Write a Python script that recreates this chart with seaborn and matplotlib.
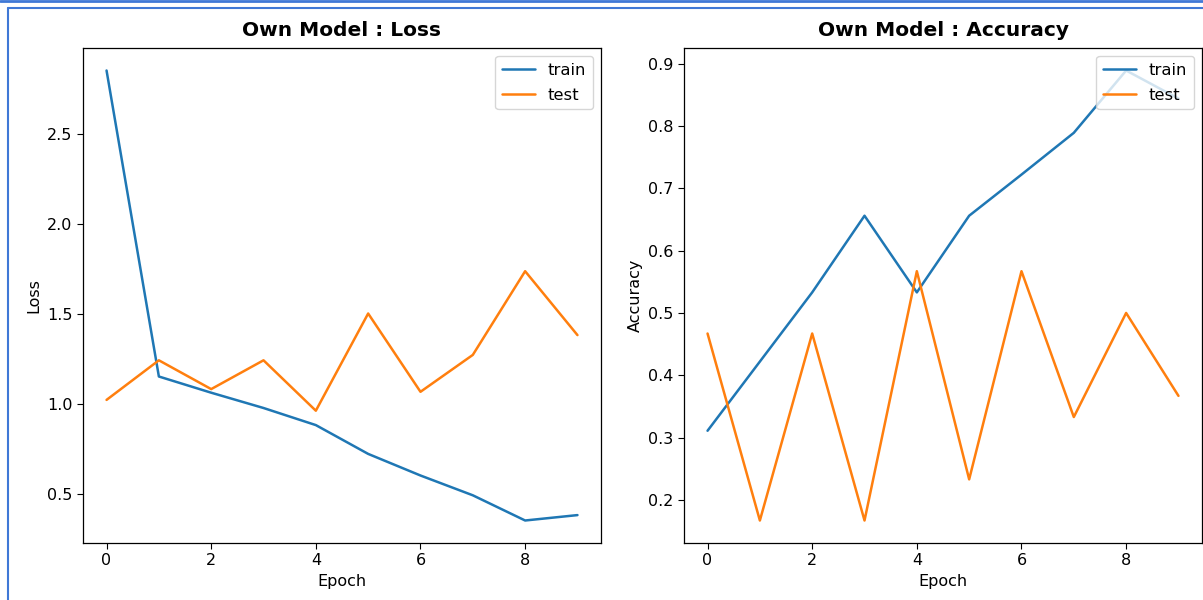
import numpy as np
import pandas as pd
import matplotlib
matplotlib.use("Agg")
import matplotlib.pyplot as plt
from matplotlib.lines import Line2D
import seaborn as sns

# values
epochs = list(range(10))
train_loss = [2.85, 1.15, 1.06, 0.975, 0.88, 0.72, 0.60, 0.49, 0.35, 0.38]
test_loss = [1.02, 1.24, 1.08, 1.24, 0.96, 1.50, 1.065, 1.27, 1.735, 1.38]
train_acc = [0.311, 0.422, 0.533, 0.656, 0.533, 0.656, 0.722, 0.789, 0.889, 0.844]
test_acc = [0.467, 0.167, 0.467, 0.167, 0.567, 0.233, 0.567, 0.333, 0.500, 0.367]

titles = ["Own Model : Loss", "Own Model : Accuracy"]
ylabels = ["Loss", "Accuracy"]

sns.set_style("ticks", {"text.color": "black", "axes.labelcolor": "black",
                        "xtick.color": "black", "ytick.color": "black",
                        "axes.edgecolor": "black"})
plt.rcParams["font.family"] = ["DejaVu Sans"]
plt.rcParams["axes.linewidth"] = 0.9
plt.rcParams["xtick.major.size"] = 4
plt.rcParams["ytick.major.size"] = 4

fig = plt.figure(figsize=(12.03, 6.0), dpi=100)
ax1 = fig.add_axes([83 / 1203, 57 / 600, 518 / 1203, 495 / 600])
ax2 = fig.add_axes([684 / 1203, 57 / 600, 518 / 1203, 495 / 600])

series = [(train_loss, test_loss), (train_acc, test_acc)]
for ax, (tr, te), title, ylab in zip([ax1, ax2], series, titles, ylabels):
    sns.lineplot(x=epochs, y=tr, ax=ax, label="train", color="#1f77b4", linewidth=1.8)
    sns.lineplot(x=epochs, y=te, ax=ax, label="test", color="#ff7f0e", linewidth=1.8)
    ax.set_title(title, fontsize=14.5, fontweight="bold", pad=9)
    ax.set_xlabel("Epoch", fontsize=11.5)
    ax.set_ylabel(ylab, fontsize=11.5)
    ax.tick_params(labelsize=11.5)
    ax.set_xticks([0, 2, 4, 6, 8])
    ax.legend(loc="upper right", fontsize=11.8, labelspacing=0.6)

ax1.set_yticks([0.5, 1.0, 1.5, 2.0, 2.5])
ax2.set_yticks([0.2, 0.3, 0.4, 0.5, 0.6, 0.7, 0.8, 0.9])

# notebook cell frame
border = "#3f78d6"
fig.add_artist(Line2D([0, 1], [1 - 1 / 600, 1 - 1 / 600], color=border, linewidth=2.0, transform=fig.transFigure))
fig.add_artist(Line2D([8 / 1203, 1], [1 - 8 / 600, 1 - 8 / 600], color=border, linewidth=1.5, transform=fig.transFigure))
fig.add_artist(Line2D([8 / 1203, 8 / 1203], [0, 1 - 8 / 600], color=border, linewidth=1.5, transform=fig.transFigure))

fig.savefig("out.png", dpi=100)
